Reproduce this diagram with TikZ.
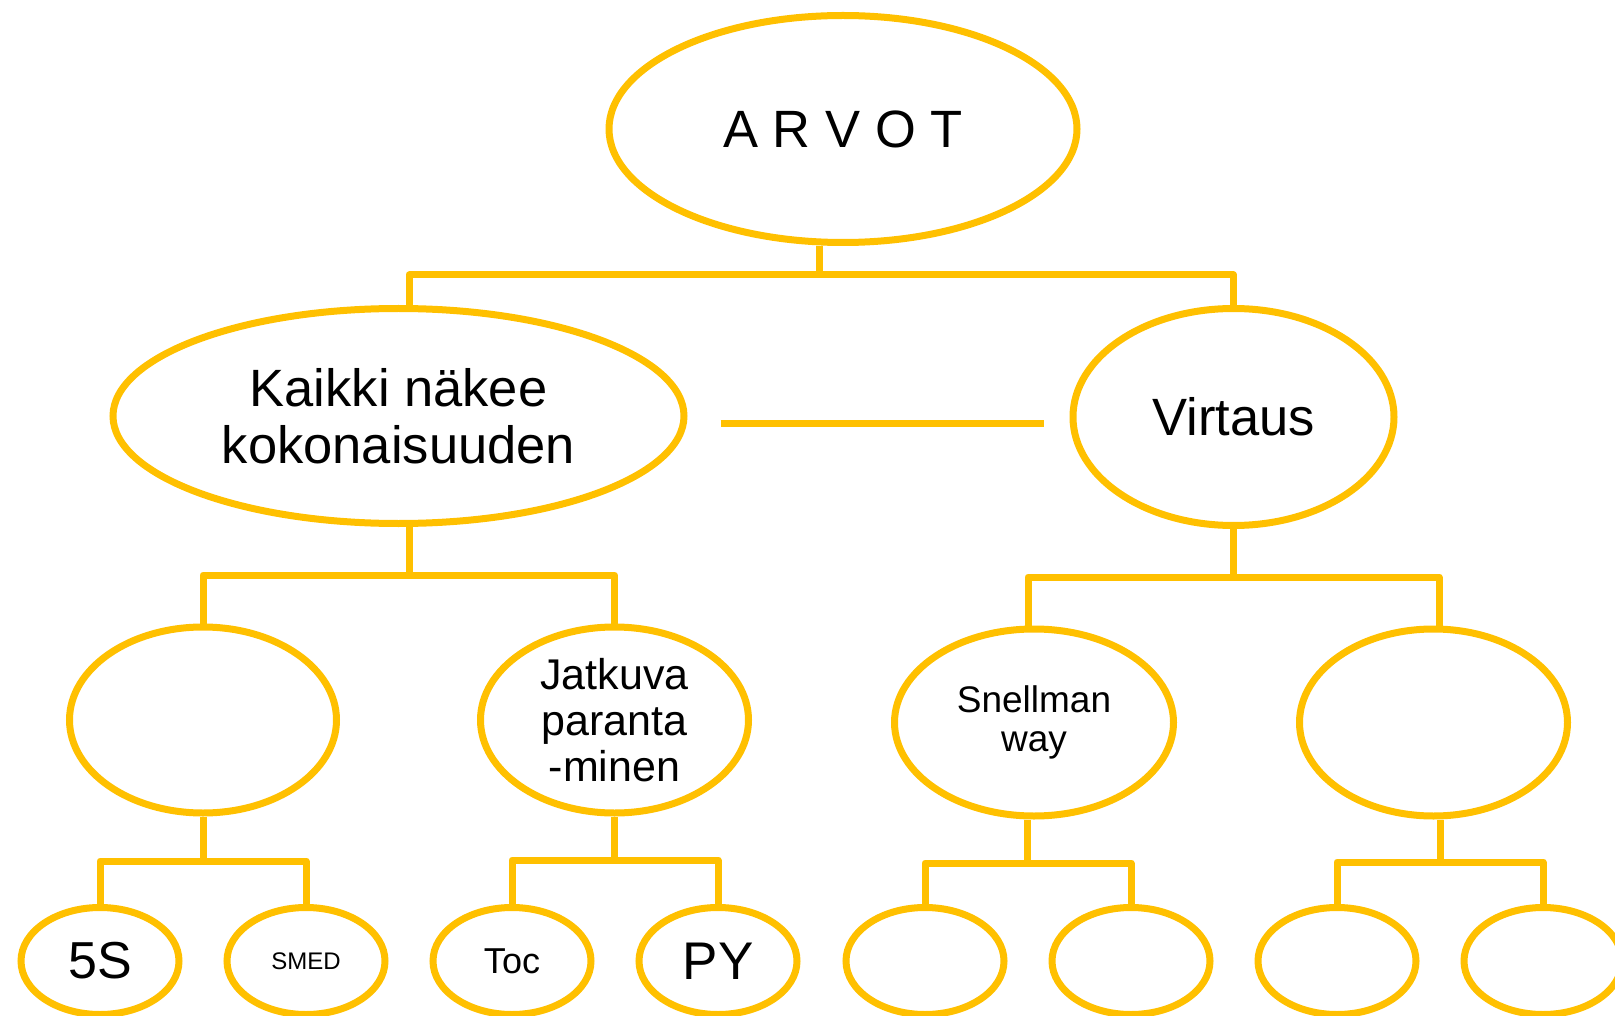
\documentclass[tikz,border=0pt]{standalone}
\usepackage{fontspec}
\setmainfont{Liberation Sans}
\usetikzlibrary{shapes.geometric}
\definecolor{gold}{HTML}{FFC000}

\begin{document}
\begin{tikzpicture}[x=1pt,y=-1pt,
  bubble/.style={ellipse, draw=gold, line width=7pt, inner sep=0pt,
                 align=center, text=black, fill=white},
  leaf/.style={bubble, minimum width=158pt, minimum height=107pt},
  conn/.style={draw=gold, line width=7pt, line join=round},
  big/.style={font=\fontsize{52.5}{57}\selectfont}]
\useasboundingbox (0,0) rectangle (1615,1016);

% top level
\node[bubble, big, minimum width=468pt, minimum height=227pt] (arvot) at (843,129) {A R V O T};

% second level
\node[bubble, big, minimum width=571pt, minimum height=215pt] (kaikki) at (398.5,416) {Kaikki näkee\\kokonaisuuden};
\node[bubble, big, minimum width=321pt, minimum height=217pt] (virtaus) at (1233.5,417) {Virtaus};

% third level
\node[bubble, minimum width=267pt, minimum height=186pt] (lefthub) at (203,720) {};
\node[bubble, minimum width=268pt, minimum height=186pt, font=\fontsize{43}{46}\selectfont] (jatkuva) at (614.5,720) {Jatkuva\\paranta\\-minen};
\node[bubble, minimum width=279pt, minimum height=187pt, font=\fontsize{37}{39}\selectfont] (snellman) at (1034,722.5) {Snellman\\way};
\node[bubble, minimum width=268pt, minimum height=187pt] (righthub) at (1433.5,722.5) {};

% leaves
\node[leaf, font=\fontsize{52}{56}\selectfont] (fives) at (100,961) {5S};
\node[leaf, font=\fontsize{24}{28}\selectfont] (smed) at (306,961) {SMED};
\node[leaf, font=\fontsize{36}{40}\selectfont] (toc) at (512,961) {Toc};
\node[leaf, font=\fontsize{53}{57}\selectfont] (py) at (718,961) {PY};
\node[leaf] (leafa) at (925,961) {};
\node[leaf] (leafb) at (1131,961) {};
\node[leaf] (leafc) at (1337,961) {};
\node[leaf] (leafd) at (1543,961) {};

% junction points on the bars
\coordinate (j0) at (819,275);
\coordinate (j1) at (409,575);
\coordinate (j2) at (1233.5,577);
\coordinate (j3) at (203,861);
\coordinate (j4) at (614.5,860);
\coordinate (j5) at (1027,863);
\coordinate (j6) at (1440,862);

% tree connectors
\draw[conn] (arvot.south -| j0) -- (j0);
\draw[conn] ([xshift=10.5pt]kaikki.north) |- (j0) -| (virtaus.north);

\draw[conn] (kaikki.south -| j1) -- (j1);
\draw[conn] (lefthub.north) |- (j1) -| (jatkuva.north);

\draw[conn] (virtaus.south) -- (j2);
\draw[conn] ([xshift=-6pt]snellman.north) |- (j2) -| ([xshift=5.5pt]righthub.north);

\draw[conn] (lefthub.south) -- (j3);
\draw[conn] (fives.north) |- (j3) -| (smed.north);

\draw[conn] (jatkuva.south) -- (j4);
\draw[conn] (toc.north) |- (j4) -| (py.north);

\draw[conn] (snellman.south -| j5) -- (j5);
\draw[conn] (leafa.north) |- (j5) -| (leafb.north);

\draw[conn] (righthub.south -| j6) -- (j6);
\draw[conn] (leafc.north) |- (j6) -| (leafd.north);

% free line between the two second-level ellipses
\draw[conn, shorten <=33pt, shorten >=26pt] ([yshift=-7pt]kaikki.east) -- ([yshift=-6pt]virtaus.west);
\end{tikzpicture}
\end{document}
